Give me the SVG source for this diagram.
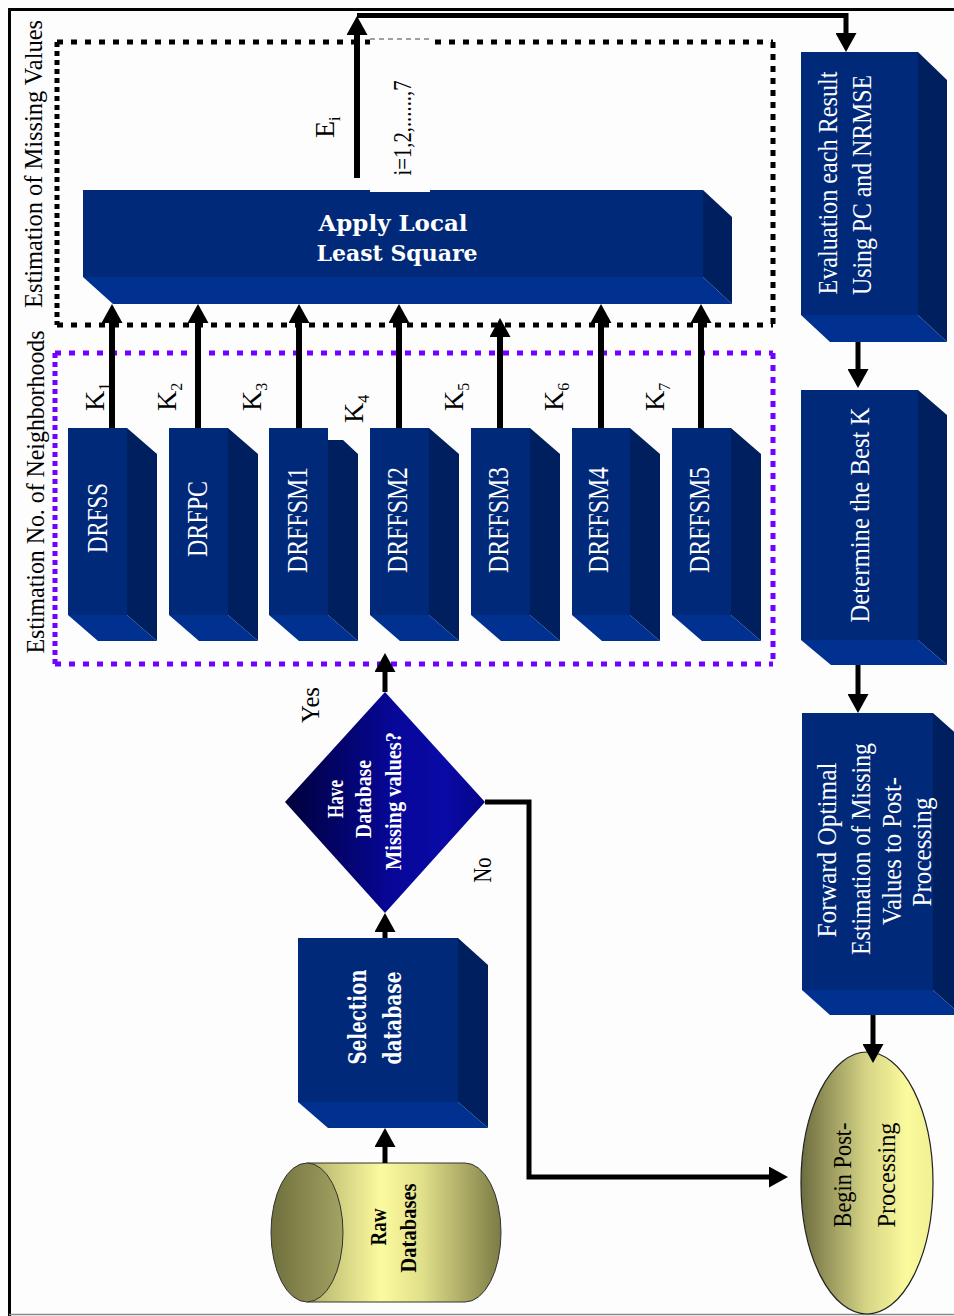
<svg xmlns="http://www.w3.org/2000/svg" width="954" height="1316" viewBox="0 0 954 1316">
  <style>
    .front { fill: #00297a; }
    .side { fill: #001f5f; }
    .bottom { fill: #003190; }
    .conn { fill: none; stroke: #000; stroke-width: 5; }
    .conn6 { fill: none; stroke: #000; stroke-width: 6; }
    .dotH { fill: none; stroke-width: 5; stroke-dasharray: 6 8; }
    .dotV { fill: none; stroke-width: 5; stroke-dasharray: 5 4; }
    .dotVR { fill: none; stroke-width: 5; stroke-dasharray: 6 6; }
    .blk { stroke: #000; }
    .pur { stroke: #7000ff; }
    text { font-family: "Liberation Serif", "Times New Roman", serif; dominant-baseline: central; text-anchor: middle; }
    .wt { fill: #fff; font-size: 27px; }
    .dr { fill: #fff; font-size: 30px; }
    .wb { fill: #fff; font-weight: bold; font-size: 23px; }
    .wide { fill: #fff; font-weight: bold; font-family: "DejaVu Serif", serif; }
    .bk { fill: #000; font-size: 26px; }
    .bkb { fill: #000; font-weight: bold; font-size: 23px; }
    .klab { fill: #000; font-size: 28px; dominant-baseline: auto; text-anchor: start; }
  </style>
  <defs>
    <marker id="ah" markerUnits="userSpaceOnUse" markerWidth="19" markerHeight="21" viewBox="0 0 19 21" refX="1" refY="10.5" orient="auto">
      <path d="M0,0 L19,10.5 L0,21 z" fill="#000"/>
    </marker>
    <linearGradient id="diamondGrad" x1="0" y1="0" x2="1" y2="0">
      <stop offset="0" stop-color="#00003a"/>
      <stop offset="0.55" stop-color="#07079a"/>
      <stop offset="0.8" stop-color="#0a0aa6"/>
      <stop offset="1" stop-color="#050588"/>
    </linearGradient>
    <linearGradient id="cylBody" gradientUnits="userSpaceOnUse" x1="300" y1="0" x2="502" y2="0">
      <stop offset="0" stop-color="#a9a964"/>
      <stop offset="0.4" stop-color="#fbfa9e"/>
      <stop offset="0.6" stop-color="#e2e18b"/>
      <stop offset="1" stop-color="#7a7a44"/>
    </linearGradient>
    <linearGradient id="cylCap" x1="0" y1="0" x2="1" y2="0">
      <stop offset="0" stop-color="#6f6f3d"/>
      <stop offset="1" stop-color="#a3a363"/>
    </linearGradient>
    <linearGradient id="ovalGrad" x1="0" y1="0" x2="1" y2="0">
      <stop offset="0" stop-color="#6d6c3f"/>
      <stop offset="0.5" stop-color="#d6d586"/>
      <stop offset="0.8" stop-color="#fbfa9c"/>
      <stop offset="1" stop-color="#f1f093"/>
    </linearGradient>
  </defs>

  <rect width="954" height="1316" fill="#fdfdfd"/>

  <!-- page frame -->
  <g id="frame">
    <line x1="9.5" y1="8" x2="9.5" y2="1316" stroke="#000" stroke-width="3"/>
    <line x1="8" y1="9.5" x2="954" y2="9.5" stroke="#000" stroke-width="3"/>
    <line x1="9" y1="1314.5" x2="954" y2="1314.5" stroke="#8a8a8a" stroke-width="1.5"/>
  </g>

  <!-- group frames -->
  <g id="missing-values-group">
    <path class="dotH blk" d="M57,42 H773 M57,325 H773"/>
    <path class="dotV blk" d="M57,42 V325"/>
    <path class="dotVR blk" d="M773,42 V325"/>
    <text class="bk" transform="translate(33,164) rotate(-90)" font-size="27" textLength="288" lengthAdjust="spacingAndGlyphs">Estimation of  Missing Values</text>
  </g>
  <g id="neighborhoods-group">
    <path class="dotH pur" d="M55,353 H773 M55,664 H773"/>
    <path class="dotV pur" d="M55,353 V664"/>
    <path class="dotVR pur" d="M773,353 V664"/>
    <text class="bk" transform="translate(35,492) rotate(-90)" font-size="27" textLength="323" lengthAdjust="spacingAndGlyphs">Estimation No. of  Neighborhoods</text>
  </g>

  <!-- Apply Local Least Square -->
  <g id="apply-lls">
    <rect class="front" x="83" y="190" width="620" height="87"/>
    <polygon class="side" points="703,190 732,217 732,304 703,277"/>
    <polygon class="bottom" points="83,277 703,277 732,304 113,304"/>
    <text class="wide" x="393" y="222" font-size="23" textLength="149" lengthAdjust="spacingAndGlyphs">Apply Local</text>
    <text class="wide" x="397" y="252" font-size="23" textLength="161" lengthAdjust="spacingAndGlyphs">Least Square</text>
  </g>

  <!-- neighbourhood estimators -->
  <g id="drfss">
    <rect class="front" x="68" y="428" width="59" height="187"/>
    <polygon class="side" points="127,428 157,454 157,641 127,615"/>
    <polygon class="bottom" points="68,615 127,615 157,641 98,641"/>
    <text class="dr" transform="translate(96,518) rotate(-90)" textLength="70" lengthAdjust="spacingAndGlyphs">DRFSS</text>
  </g>
  <g id="drfpc">
    <rect class="front" x="169" y="428" width="59" height="187"/>
    <polygon class="side" points="228,428 258,454 258,641 228,615"/>
    <polygon class="bottom" points="169,615 228,615 258,641 199,641"/>
    <text class="dr" transform="translate(196,519) rotate(-90)" textLength="76" lengthAdjust="spacingAndGlyphs">DRFPC</text>
  </g>
  <g id="drffsm1">
    <rect class="front" x="269" y="428" width="59" height="187"/>
    <polygon class="side" points="328,440 343,440 358,454 358,641 328,615"/>
    <polygon class="bottom" points="269,615 328,615 358,641 299,641"/>
    <text class="dr" transform="translate(296,520) rotate(-90)" textLength="106" lengthAdjust="spacingAndGlyphs">DRFFSM1</text>
  </g>
  <g id="drffsm2">
    <rect class="front" x="370" y="428" width="59" height="187"/>
    <polygon class="side" points="429,428 459,454 459,641 429,615"/>
    <polygon class="bottom" points="370,615 429,615 459,641 400,641"/>
    <text class="dr" transform="translate(396,520) rotate(-90)" textLength="106" lengthAdjust="spacingAndGlyphs">DRFFSM2</text>
  </g>
  <g id="drffsm3">
    <rect class="front" x="471" y="428" width="59" height="187"/>
    <polygon class="side" points="530,428 560,454 560,641 530,615"/>
    <polygon class="bottom" points="471,615 530,615 560,641 501,641"/>
    <text class="dr" transform="translate(497,520) rotate(-90)" textLength="106" lengthAdjust="spacingAndGlyphs">DRFFSM3</text>
  </g>
  <g id="drffsm4">
    <rect class="front" x="572" y="428" width="58" height="187"/>
    <polygon class="side" points="630,428 660,454 660,641 630,615"/>
    <polygon class="bottom" points="572,615 630,615 660,641 602,641"/>
    <text class="dr" transform="translate(597,520) rotate(-90)" textLength="106" lengthAdjust="spacingAndGlyphs">DRFFSM4</text>
  </g>
  <g id="drffsm5">
    <rect class="front" x="672" y="428" width="59" height="187"/>
    <polygon class="side" points="731,428 761,454 761,641 731,615"/>
    <polygon class="bottom" points="672,615 731,615 761,641 702,641"/>
    <text class="dr" transform="translate(698,520) rotate(-90)" textLength="106" lengthAdjust="spacingAndGlyphs">DRFFSM5</text>
  </g>

  <!-- right-hand column -->
  <g id="evaluation">
    <rect class="front" x="801" y="52" width="117" height="263"/>
    <polygon class="side" points="918,52 947,80 947,342 918,315"/>
    <polygon class="bottom" points="801,315 918,315 947,342 830,342"/>
    <text class="wt" transform="translate(828,183) rotate(-90)" textLength="223" lengthAdjust="spacingAndGlyphs">Evaluation each Result</text>
    <text class="wt" transform="translate(862,185) rotate(-90)" textLength="220" lengthAdjust="spacingAndGlyphs">Using PC and NRMSE</text>
  </g>
  <g id="best-k">
    <rect class="front" x="801" y="390" width="117" height="250"/>
    <polygon class="side" points="918,390 947,415 947,665 918,640"/>
    <polygon class="bottom" points="801,640 918,640 947,665 831,665"/>
    <text class="wt" transform="translate(860,515) rotate(-90)" textLength="215" lengthAdjust="spacingAndGlyphs">Determine the Best  K</text>
  </g>
  <g id="forward">
    <rect class="front" x="802" y="713" width="131" height="277"/>
    <polygon class="side" points="933,713 961,738 961,1015 933,990"/>
    <polygon class="bottom" points="802,990 933,990 961,1015 830,1015"/>
    <text class="wt" transform="translate(827,850) rotate(-90)" textLength="175" lengthAdjust="spacingAndGlyphs">Forward  Optimal</text>
    <text class="wt" transform="translate(861,849) rotate(-90)" textLength="212" lengthAdjust="spacingAndGlyphs">Estimation of Missing</text>
    <text class="wt" transform="translate(892,851) rotate(-90)" textLength="148" lengthAdjust="spacingAndGlyphs">Values to Post-</text>
    <text class="wt" transform="translate(922,852) rotate(-90)" textLength="109" lengthAdjust="spacingAndGlyphs">Processing</text>
  </g>
  <g id="begin-post">
    <ellipse cx="867" cy="1183" rx="66" ry="131" fill="url(#ovalGrad)" stroke="#222" stroke-width="1.2"/>
    <text class="bk" transform="translate(842,1175) rotate(-90)" textLength="105" lengthAdjust="spacingAndGlyphs">Begin Post-</text>
    <text class="bk" transform="translate(886,1175) rotate(-90)" textLength="105" lengthAdjust="spacingAndGlyphs">Processing</text>
  </g>

  <!-- input side -->
  <g id="raw-databases">
    <path d="M307,1163 H465 A36,69.5 0 0 1 465,1302 H307 Z" fill="url(#cylBody)" stroke="#333" stroke-width="1"/>
    <ellipse cx="307" cy="1232.5" rx="36" ry="69.5" fill="url(#cylCap)" stroke="#333" stroke-width="1"/>
    <text class="bkb" transform="translate(378,1227) rotate(-90)" textLength="37" lengthAdjust="spacingAndGlyphs">Raw</text>
    <text class="bkb" transform="translate(408,1228) rotate(-90)" textLength="89" lengthAdjust="spacingAndGlyphs">Databases</text>
  </g>
  <g id="selection">
    <rect class="front" x="298" y="938" width="160" height="164"/>
    <polygon class="side" points="458,938 488,965 488,1128 458,1102"/>
    <polygon class="bottom" points="298,1102 458,1102 488,1128 328,1128"/>
    <text class="wide" transform="translate(357,1017) rotate(-90)" font-size="24" textLength="95" lengthAdjust="spacingAndGlyphs">Selection</text>
    <text class="wide" transform="translate(392,1018) rotate(-90)" font-size="24" textLength="93" lengthAdjust="spacingAndGlyphs">database</text>
  </g>
  <g id="missing-check">
    <polygon points="385,692 485,802 385,913 285,802" fill="url(#diamondGrad)"/>
    <text class="wb" transform="translate(335,799) rotate(-90)" textLength="38" lengthAdjust="spacingAndGlyphs">Have</text>
    <text class="wb" transform="translate(363,799) rotate(-90)" textLength="78" lengthAdjust="spacingAndGlyphs">Database</text>
    <text class="wb" transform="translate(393,801) rotate(-90)" textLength="138" lengthAdjust="spacingAndGlyphs">Missing values?</text>
  </g>

  <!-- connectors -->
  <g id="connectors">
    <path class="conn6" d="M357,178 V34" marker-end="url(#ah)"/>
    <path class="conn" d="M357,15.5 H846 V34" marker-end="url(#ah)"/>
    <path class="conn6" d="M112,428 V322" marker-end="url(#ah)"/>
    <path class="conn6" d="M198,428 V322" marker-end="url(#ah)"/>
    <path class="conn6" d="M299,428 V322" marker-end="url(#ah)"/>
    <path class="conn6" d="M399,428 V322" marker-end="url(#ah)"/>
    <path class="conn6" d="M500,428 V336" marker-end="url(#ah)"/>
    <path class="conn6" d="M601,428 V322" marker-end="url(#ah)"/>
    <path class="conn6" d="M701,428 V322" marker-end="url(#ah)"/>
    <path class="conn" d="M858,342 V370" marker-end="url(#ah)"/>
    <path class="conn" d="M858,665 V695" marker-end="url(#ah)"/>
    <path class="conn" d="M873,1015 V1045" marker-end="url(#ah)"/>
    <path class="conn" d="M385,692 V671" marker-end="url(#ah)"/>
    <path class="conn" d="M385,938 V931" marker-end="url(#ah)"/>
    <path class="conn" d="M385,1163 V1146" marker-end="url(#ah)"/>
    <path class="conn" d="M485,802 H529 V1177 H770" marker-end="url(#ah)"/>
  </g>

  <!-- connector labels -->
  <g id="labels">
    <rect x="370" y="37" width="60" height="155" fill="#fdfdfd"/>
    <line x1="370" y1="39" x2="430" y2="39" stroke="#444" stroke-width="1" stroke-dasharray="5 4"/>
    <text class="bk" transform="translate(402,128) rotate(-90)" font-size="22" textLength="95" lengthAdjust="spacingAndGlyphs">i=1,2,......,7</text>
    <text class="klab" transform="translate(334,138) rotate(-90)">E<tspan font-size="16" dy="6">i</tspan></text>
    <text class="klab" transform="translate(104,411) rotate(-90)">K<tspan font-size="16" dy="6">1</tspan></text>
    <text class="klab" transform="translate(176,411) rotate(-90)">K<tspan font-size="16" dy="6">2</tspan></text>
    <text class="klab" transform="translate(261,411) rotate(-90)">K<tspan font-size="16" dy="6">3</tspan></text>
    <text class="klab" transform="translate(363,423) rotate(-90)">K<tspan font-size="16" dy="6">4</tspan></text>
    <text class="klab" transform="translate(463,411) rotate(-90)">K<tspan font-size="16" dy="6">5</tspan></text>
    <text class="klab" transform="translate(563,411) rotate(-90)">K<tspan font-size="16" dy="6">6</tspan></text>
    <text class="klab" transform="translate(664,411) rotate(-90)">K<tspan font-size="16" dy="6">7</tspan></text>
    <text class="bk" transform="translate(310,705) rotate(-90)" font-size="26" textLength="36" lengthAdjust="spacingAndGlyphs">Yes</text>
    <text class="bk" transform="translate(482,870) rotate(-90)" font-size="26" textLength="25" lengthAdjust="spacingAndGlyphs">No</text>
  </g>
</svg>
